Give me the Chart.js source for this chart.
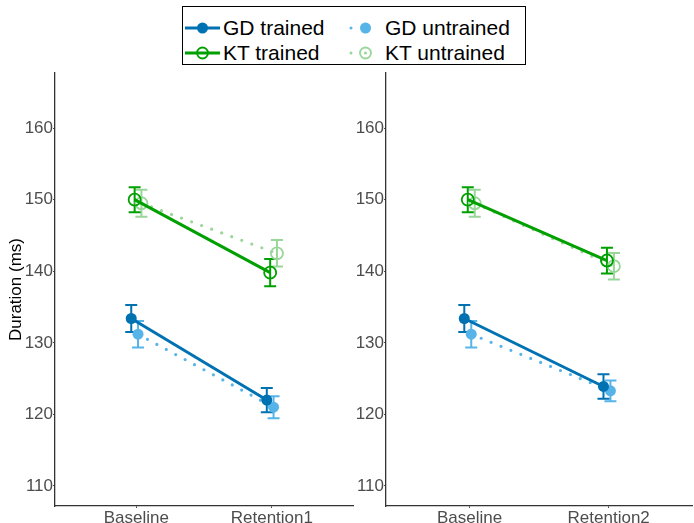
<!DOCTYPE html>
<html>
<head>
<meta charset="utf-8">
<script src="https://cdn.jsdelivr.net/npm/chart.js@4/dist/chart.umd.min.js"></script>
<style>
  body { margin: 0; width: 694px; height: 523px; background: #fff; position: relative; overflow: hidden;
         font-family: "Liberation Sans", Arial, sans-serif; }
  #c1 { position: absolute; left: 0; top: 0; }
  #c2 { position: absolute; left: 355px; top: 0; }
  .legend { position: absolute; left: 182px; top: 6px; width: 342px; height: 57px; border: 1.5px solid #000; background: #fff; }
  .item { position: absolute; height: 24px; display: flex; align-items: center; font-size: 21px; color: #000; white-space: nowrap; }
  .item svg { margin-right: 3px; }
</style>
</head>
<body>
<canvas id="c1" width="361" height="523"></canvas>
<canvas id="c2" width="345" height="523"></canvas>

<div class="legend">
  <div class="item" style="left:2px; top:8.5px;">
    <svg width="35" height="20"><line x1="0" y1="10" x2="35" y2="10" stroke="#0072B2" stroke-width="3"/><circle cx="17.5" cy="10" r="5.5" fill="#0072B2"/></svg>GD trained
  </div>
  <div class="item" style="left:2px; top:33.5px;">
    <svg width="35" height="20"><line x1="0" y1="10" x2="35" y2="10" stroke="#00A000" stroke-width="3"/><circle cx="17.5" cy="10" r="5.5" fill="none" stroke="#00A000" stroke-width="1.8"/></svg>KT trained
  </div>
  <div class="item" style="left:166px; top:8.5px;">
    <svg width="33" height="20"><line x1="2" y1="10" x2="31" y2="10" stroke="#56B4E9" stroke-width="3" stroke-dasharray="0 14.5" stroke-linecap="round"/><circle cx="16.5" cy="10" r="5.5" fill="#56B4E9"/></svg>GD untrained
  </div>
  <div class="item" style="left:166px; top:33.5px;">
    <svg width="33" height="20"><line x1="2" y1="10" x2="31" y2="10" stroke="#99D699" stroke-width="3" stroke-dasharray="0 14.5" stroke-linecap="round"/><circle cx="16.5" cy="10" r="5.5" fill="none" stroke="#99D699" stroke-width="1.8"/></svg>KT untrained
  </div>
</div>

<script>
// Phases shown on each panel's x axis
const phasesLeft  = ['Baseline', 'Retention1'];
const phasesRight = ['Baseline', 'Retention2'];
const yTickValues = [110, 120, 130, 140, 150, 160];

// Mean duration (ms) per phase, and half-width of error bars
const gdTrainedLeft    = [133.4, 122.0];
const gdTrainedLeftErr = [1.9, 1.7];
const ktTrainedLeft    = [150.0, 139.8];
const ktTrainedLeftErr = [1.75, 1.9];
const gdUntrainedLeft    = [131.2, 121.0];
const gdUntrainedLeftErr = [1.85, 1.55];
const ktUntrainedLeft    = [149.5, 142.5];
const ktUntrainedLeftErr = [1.9, 1.85];

const gdTrainedRight    = [133.4, 123.9];
const gdTrainedRightErr = [1.9, 1.7];
const ktTrainedRight    = [150.0, 141.5];
const ktTrainedRightErr = [1.75, 1.8];
const gdUntrainedRight    = [131.2, 123.3];
const gdUntrainedRightErr = [1.85, 1.45];
const ktUntrainedRight    = [149.5, 140.7];
const ktUntrainedRightErr = [1.9, 1.85];

// Styling
const FONT = '"Liberation Sans", Arial, sans-serif';
const COL = { gdT: '#0072B2', gdU: '#56B4E9', ktT: '#00A000', ktU: '#99D699' };
// horizontal dodge of the four groups around each phase
const DODGE = { gdT: -0.0375, ktT: -0.0125, gdU: 0.0125, ktU: 0.0375 };

function pts(values, dodge) {
  return values.map((v, i) => ({ x: i + 1 + dodge, y: v }));
}

function makeDatasets(gdT, gdTe, ktT, ktTe, gdU, gdUe, ktU, ktUe) {
  const solid = { borderWidth: 3, borderDash: [] };
  const dotted = { borderWidth: 3.2, borderDash: [0, 10.7], borderCapStyle: 'round' };
  return [
    Object.assign({ label: 'GD trained', data: pts(gdT, DODGE.gdT), errors: gdTe, borderColor: COL.gdT,
      pointBackgroundColor: COL.gdT, pointBorderColor: COL.gdT, pointRadius: 5.5, pointBorderWidth: 0, order: 0 }, solid),
    Object.assign({ label: 'KT trained', data: pts(ktT, DODGE.ktT), errors: ktTe, borderColor: COL.ktT,
      pointBackgroundColor: 'rgba(0,0,0,0)', pointBorderColor: COL.ktT, pointRadius: 6, pointBorderWidth: 1.8, order: 1 }, solid),
    Object.assign({ label: 'GD untrained', data: pts(gdU, DODGE.gdU), errors: gdUe, borderColor: COL.gdU,
      pointBackgroundColor: COL.gdU, pointBorderColor: COL.gdU, pointRadius: 5.5, pointBorderWidth: 0, order: 2 }, dotted),
    Object.assign({ label: 'KT untrained', data: pts(ktU, DODGE.ktU), errors: ktUe, borderColor: COL.ktU,
      pointBackgroundColor: 'rgba(0,0,0,0)', pointBorderColor: COL.ktU, pointRadius: 6, pointBorderWidth: 1.8, order: 3 }, dotted)
  ];
}

// Draws mean ± error whiskers with caps for every dataset
const errorBars = {
  id: 'errorBars',
  beforeDatasetsDraw(chart) {
    const ctx = chart.ctx, xs = chart.scales.x, ys = chart.scales.y;
    chart.data.datasets.slice().reverse().forEach(ds => {
      ctx.save();
      ctx.strokeStyle = ds.borderColor;
      ctx.lineWidth = 2;
      ctx.setLineDash([]);
      ds.data.forEach((p, i) => {
        const e = ds.errors[i];
        const x = xs.getPixelForValue(p.x);
        const y1 = ys.getPixelForValue(p.y + e);
        const y2 = ys.getPixelForValue(p.y - e);
        ctx.beginPath();
        ctx.moveTo(x, y1); ctx.lineTo(x, y2);
        ctx.moveTo(x - 6, y1); ctx.lineTo(x + 6, y1);
        ctx.moveTo(x - 6, y2); ctx.lineTo(x + 6, y2);
        ctx.stroke();
      });
      ctx.restore();
    });
  }
};

function makeChart(id, labels, datasets, yWidth, padRight, showTitle) {
  return new Chart(document.getElementById(id), {
    type: 'line',
    data: { datasets },
    options: {
      responsive: false,
      animation: false,
      layout: { padding: { top: 73, right: padRight, left: 0, bottom: 0 } },
      plugins: { legend: { display: false }, tooltip: { enabled: false } },
      scales: {
        x: {
          type: 'linear', min: 0.4, max: 2.6,
          afterBuildTicks: s => { s.ticks = [{ value: 1 }, { value: 2 }]; },
          afterFit: s => { s.height = 17; },
          ticks: { callback: (v, i) => labels[i], color: '#4D4D4D', font: { family: FONT, size: 17 }, padding: 0, maxRotation: 0 },
          grid: { drawOnChartArea: false, tickLength: 2, color: '#4D4D4D' },
          border: { color: '#333', width: 1.3 }
        },
        y: {
          type: 'linear', min: 107.2, max: 167.7,
          afterBuildTicks: s => { s.ticks = yTickValues.map(v => ({ value: v })); },
          afterFit: s => { s.width = yWidth; },
          ticks: { color: '#4D4D4D', font: { family: FONT, size: 17 }, padding: 0 },
          grid: { drawOnChartArea: false, tickLength: 2, color: '#4D4D4D' },
          border: { color: '#333', width: 1.3 },
          title: { display: showTitle, text: 'Duration (ms)', color: '#000', font: { family: FONT, size: 17 }, padding: { top: 6, bottom: 0 } }
        }
      }
    },
    plugins: [errorBars]
  });
}

makeChart('c1', phasesLeft,
  makeDatasets(gdTrainedLeft, gdTrainedLeftErr, ktTrainedLeft, ktTrainedLeftErr,
               gdUntrainedLeft, gdUntrainedLeftErr, ktUntrainedLeft, ktUntrainedLeftErr),
  55, 3, true);

makeChart('c2', phasesRight,
  makeDatasets(gdTrainedRight, gdTrainedRightErr, ktTrainedRight, ktTrainedRightErr,
               gdUntrainedRight, gdUntrainedRightErr, ktUntrainedRight, ktUntrainedRightErr),
  31, 2, false);
</script>
</body>
</html>
